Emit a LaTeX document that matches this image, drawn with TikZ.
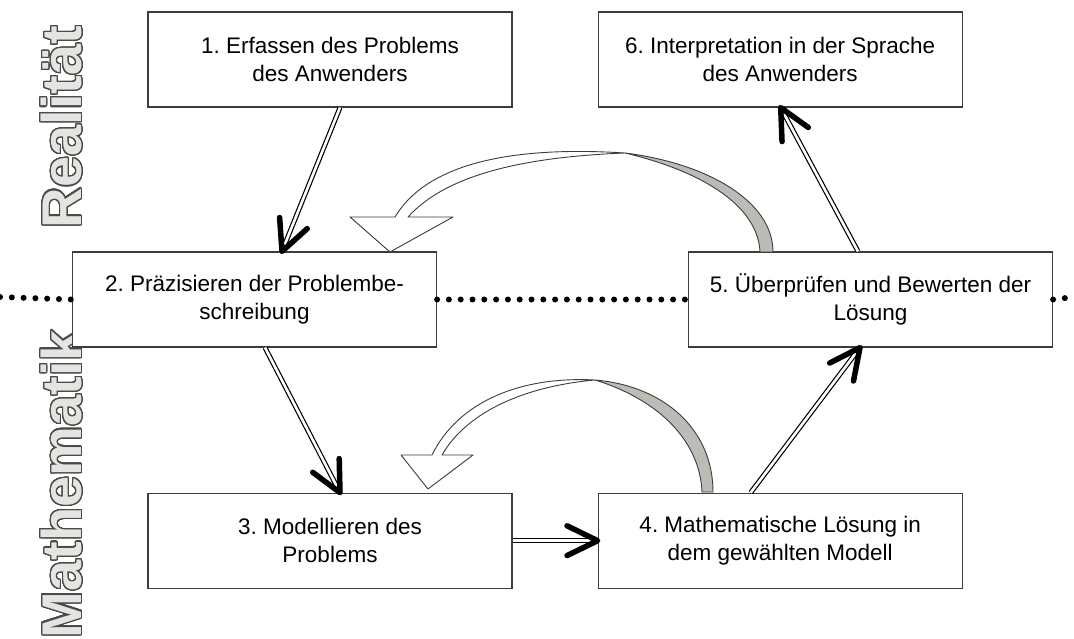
\documentclass[tikz,border=0pt]{standalone}
\usepackage{fontspec}
\setmainfont{Liberation Sans}
\usepackage[copies]{contour}
\usetikzlibrary{positioning,calc}
\contourlength{1.3pt}
\contournumber{32}
\frenchspacing
\definecolor{boxline}{HTML}{3C3C3C}
\definecolor{bandgray}{HTML}{BDBBB5}
\definecolor{letterfill}{HTML}{E4E4E0}
\definecolor{letterline}{HTML}{4A4A4A}

\begin{document}
\begin{tikzpicture}[%
    x=1pt, y=-1pt,
    node distance=85pt and 85pt, % gap between the boxes
    ]
\tikzset{
  stepbox/.style={draw=boxline, line width=1.2pt, fill=white, minimum width=364pt,
    minimum height=95pt, align=center, inner sep=0pt, font=\fontsize{22.5}{27.5}\selectfont},
  ar/.style={draw, double, double distance=2.6pt, line width=1.2pt},
  tip/.style={line width=5.5pt, line cap=round, line join=round},
  band/.style={draw=boxline, line width=0.9pt, line join=round},
  dots/.style={line width=6pt, line cap=round, dash pattern=on 0pt off 11.8pt},
  side/.style={rotate=90, inner sep=0pt, text=letterfill,
    font=\fontsize{56}{56}\bfseries\selectfont}
}
\useasboundingbox (0,0) rectangle (1074,639);
\clip (0,0) rectangle (1074,639);

% side labels
\node [side] (real) at (62,127) {\contour{letterline}{Realität}};
\node [side] (mathe) at (62,484) {\contour{letterline}{Mathematik}};

% boxes
\node [stepbox] (b1) at (330,59.5) {1. Erfassen des Problems\\des Anwenders};
\node [stepbox, right=of b1] (b6) {6. Interpretation in der Sprache\\des Anwenders};
\node [stepbox] (b2) at (254.5,299.5) {2. Präzisieren der Problembe-\\schreibung};
\node [stepbox] (b5) at (870.5,299.5) {5. Überprüfen und Bewerten der\\Lösung};
\node [stepbox, below=385pt of b1] (b3) {3. Modellieren des\\Problems};
\node [stepbox, right=of b3] (b4) {4. Mathematische Lösung in\\dem gewählten Modell};

% border line between reality and mathematics
\coordinate (dl) at (0,297);
\coordinate (dr) at (1074,297);
\draw [dots] (dl) -- (b2.west);
\draw [dots] (b2.east) -- (b5.west);
\draw [dots] (b5.east) -- (dr);

% straight arrows
\coordinate (p1) at ([xshift=10pt]b1.south);
\coordinate (q1) at ([xshift=27.5pt]b2.north);
\coordinate (p2) at ([xshift=10.5pt]b2.south);
\coordinate (q2) at ([xshift=10pt]b3.north);
\coordinate (p4) at ([xshift=-29.5pt]b4.north);
\coordinate (q4) at ([xshift=-10.5pt]b5.south);
\coordinate (p5) at ([xshift=-12.5pt]b5.north);
\coordinate (q5) at ([xshift=0.5pt]b6.south);
    \draw [ar] (p1) -- (q1);
    \draw [tip] ($(q1)!34pt!26:(p1)$) -- (q1) -- ($(q1)!34pt!-26:(p1)$);
    \draw [ar] (p2) -- (q2);
    \draw [tip] ($(q2)!34pt!26:(p2)$) -- (q2) -- ($(q2)!34pt!-26:(p2)$);
    \draw [ar] (b3.east) -- (b4.west);
    \draw [tip] ($(b4.west)!34pt!26:(b3.east)$) -- (b4.west) -- ($(b4.west)!34pt!-26:(b3.east)$);
    \draw [ar] (p4) -- (q4);
    \draw [tip] ($(q4)!34pt!26:(p4)$) -- (q4) -- ($(q4)!34pt!-26:(p4)$);
    \draw [ar] (p5) -- (q5);
    \draw [tip] ($(q5)!34pt!26:(p5)$) -- (q5) -- ($(q5)!34pt!-26:(p5)$);

% curved arrow back to step 2
\draw [band, fill=white] (350,217) -- (395,217)
    .. controls (428,162) and (515,146) .. (625,153)
    .. controls (525,157) and (447,174) .. (408,217)
    -- (453,217) -- (390,252) -- cycle;
\draw [band, fill=bandgray] (625,153) .. controls (705,163) and (773,200) .. (773,252)
    -- (760,252) .. controls (758,207) and (705,172) .. (625,153) -- cycle;

% curved arrow back to step 3
\draw [band, fill=white] (401,455) -- (432,455)
    .. controls (458,402) and (520,376) .. (595,380)
    .. controls (528,386) and (468,410) .. (442,455)
    -- (473,455) -- (428,489) -- cycle;
\draw [band, fill=bandgray] (595,380) .. controls (665,386) and (713,430) .. (713,492)
    -- (702,492) .. controls (700,442) and (660,400) .. (595,380) -- cycle;
\end{tikzpicture}
\end{document}
